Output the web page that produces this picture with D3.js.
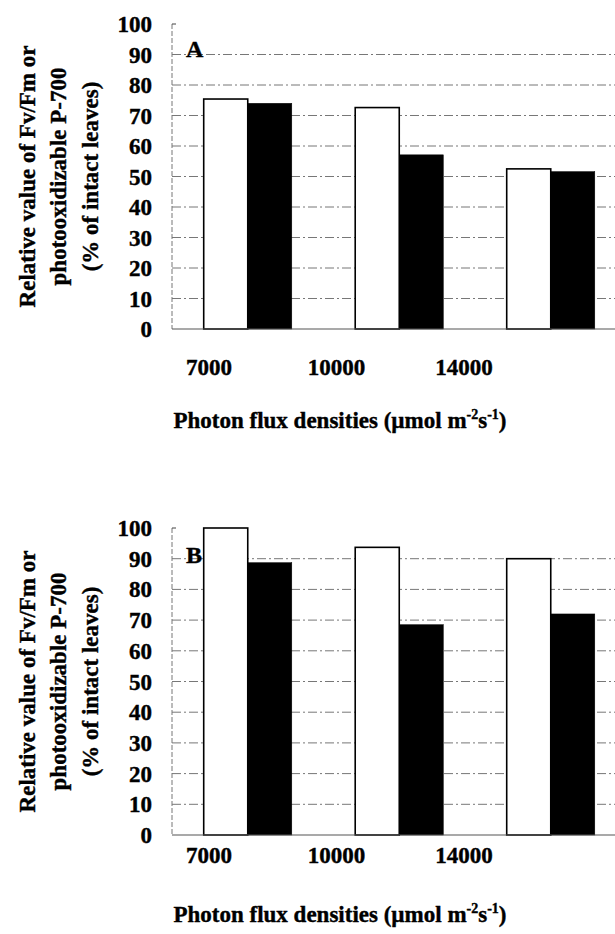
<!DOCTYPE html>
<html>
<head>
<meta charset="utf-8">
<script src="https://cdn.jsdelivr.net/npm/d3@7"></script>
<style>
  body { margin: 0; background: #fff; }
  svg { display: block; }
  text { font-family: "Liberation Serif", "Times New Roman", serif; font-weight: bold; fill: #000; stroke: #000; stroke-width: 0.4px; }
</style>
</head>
<body>
<script>
const categories = ["7000", "10000", "14000"];
const series = ["white", "black"];
const panelA_white = [75.4, 72.6, 52.5];
const panelA_black = [74.0, 57.1, 51.6];
const panelB_white = [100, 93.7, 90.0];
const panelB_black = [88.7, 68.5, 72.0];
const yTicks = [0, 10, 20, 30, 40, 50, 60, 70, 80, 90, 100];
const yTitleLines = ["Relative value of Fv/Fm or", "photooxidizable P-700", "(% of intact leaves)"];

const width = 615, height = 934;

const svg = d3.select("body").append("svg")
  .attr("width", width)
  .attr("height", height);

function drawPanel(opt) {
  const y = d3.scaleLinear().domain([0, 100]).range([opt.bottom, opt.top]);
  // groups are wider than the visible area, the plot is cut at the right edge
  const x0 = d3.scaleBand().domain(categories).range([172, 626.5]).padding(0);
  const x1 = d3.scaleBand().domain(series).range([0, x0.bandwidth()]).paddingInner(0).paddingOuter(0.72);
  // category labels in the original sit left of the bar groups
  const xl = d3.scalePoint().domain(categories).range([209, 464]);

  const g = svg.append("g");

  // grid lines
  g.selectAll("line.grid")
    .data(yTicks.filter(d => d > 0 && d < 100))
    .enter().append("line")
    .attr("class", "grid")
    .attr("x1", 172).attr("x2", width)
    .attr("y1", d => y(d)).attr("y2", d => y(d))
    .attr("stroke", "#777")
    .attr("stroke-width", 1)
    .attr("stroke-dasharray", "9,3,2,3");

  // left axis (dashed) and top tick
  g.append("line")
    .attr("x1", 172).attr("x2", 172)
    .attr("y1", y(100)).attr("y2", y(0))
    .attr("stroke", "#777").attr("stroke-width", 1)
    .attr("stroke-dasharray", "5,2");
  g.append("line")
    .attr("x1", 172).attr("x2", 176)
    .attr("y1", y(100)).attr("y2", y(100))
    .attr("stroke", "#444").attr("stroke-width", 1);

  // y tick labels
  g.selectAll("text.ytick")
    .data(yTicks)
    .enter().append("text")
    .attr("class", "ytick")
    .attr("x", 152)
    .attr("y", d => y(d))
    .attr("dy", "0.35em")
    .attr("text-anchor", "end")
    .attr("font-size", 23)
    .text(d => d);

  // bars
  const rows = categories.map((c, i) => ({ cat: c, white: opt.white[i], black: opt.black[i] }));
  const grp = g.selectAll("g.grp")
    .data(rows)
    .enter().append("g")
    .attr("class", "grp")
    .attr("transform", d => "translate(" + x0(d.cat) + ",0)");

  grp.selectAll("rect")
    .data(d => series.map(s => ({ key: s, value: d[s] })))
    .enter().append("rect")
    .attr("x", d => x1(d.key))
    .attr("width", x1.bandwidth())
    .attr("y", d => y(d.value))
    .attr("height", d => y(0) - y(d.value))
    .attr("fill", d => d.key === "white" ? "#fff" : "#000")
    .attr("stroke", "#000")
    .attr("stroke-width", d => d.key === "white" ? 1.6 : 0.5);

  // baseline
  g.append("line")
    .attr("x1", 172).attr("x2", width)
    .attr("y1", y(0)).attr("y2", y(0))
    .attr("stroke", "#555").attr("stroke-width", 1.2);

  // panel letter
  g.append("text")
    .attr("x", 186)
    .attr("y", opt.letterY)
    .attr("font-size", 24)
    .text(opt.letter);

  // category labels
  g.selectAll("text.xtick")
    .data(categories)
    .enter().append("text")
    .attr("class", "xtick")
    .attr("x", d => xl(d))
    .attr("y", opt.catY)
    .attr("text-anchor", "middle")
    .attr("font-size", 23)
    .text(d => d);

  // x title
  const xt = g.append("text")
    .attr("x", 340)
    .attr("y", opt.titleY)
    .attr("text-anchor", "middle")
    .attr("font-size", 23);
  xt.append("tspan").text("Photon flux densities (\u00b5mol m");
  xt.append("tspan").attr("dy", -9).attr("font-size", 14).text("-2");
  xt.append("tspan").attr("dy", 9).text("s");
  xt.append("tspan").attr("dy", -9).attr("font-size", 14).text("-1");
  xt.append("tspan").attr("dy", 9).text(")");

  // y title
  const cy = (y(0) + y(100)) / 2;
  const lineX = [27, 58, 90];
  yTitleLines.forEach((t, i) => {
    g.append("text")
      .attr("transform", "translate(" + lineX[i] + "," + cy + ") rotate(-90)")
      .attr("text-anchor", "middle")
      .attr("dy", "0.35em")
      .attr("font-size", 23)
      .text(t);
  });
}

drawPanel({ top: 24, bottom: 329, white: panelA_white, black: panelA_black, letter: "A", letterY: 57, catY: 375, titleY: 428 });
drawPanel({ top: 528, bottom: 835, white: panelB_white, black: panelB_black, letter: "B", letterY: 563, catY: 863, titleY: 922 });
</script>
</body>
</html>
